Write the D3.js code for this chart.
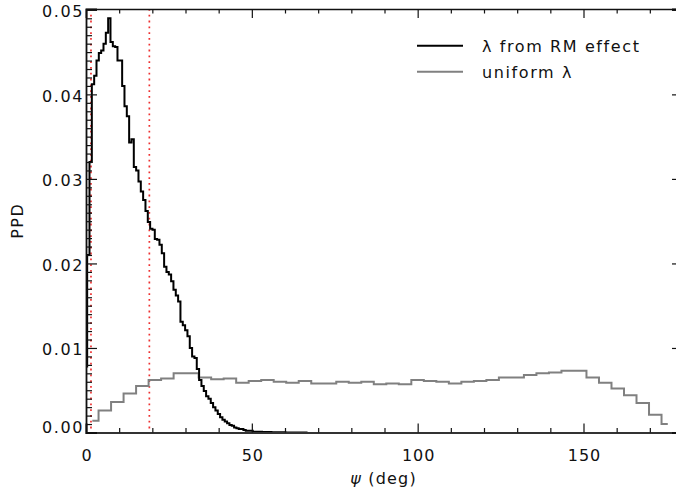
<!DOCTYPE html>
<html>
<head>
<meta charset="utf-8">
<script src="https://cdn.jsdelivr.net/npm/d3@7"></script>
<style>
  html, body { margin: 0; padding: 0; background: #fff; }
  svg { display: block; }
  text { font-family: "DejaVu Sans", sans-serif; fill: #111; }
</style>
</head>
<body>
<div id="chart"></div>
<script>
// ---------- data ----------
// black histogram: "λ from RM effect", 256 bins over 0..180 deg (only non-zero part listed)
const blackBinWidth = 180 / 256;
const blackValues = [
  0.0078, 0.0210, 0.0320, 0.0412, 0.0422, 0.0440, 0.0449, 0.0452, 0.0460, 0.0473,
  0.0490, 0.0462, 0.0457, 0.0456, 0.0440, 0.0440, 0.0410, 0.0386, 0.0374, 0.0343,
  0.0347, 0.0314, 0.0310, 0.0297, 0.0285, 0.0275, 0.0262, 0.0249, 0.0241, 0.0240,
  0.0229, 0.0228, 0.0222, 0.0212, 0.0196, 0.0190, 0.0187, 0.0179, 0.0169, 0.0162,
  0.0155, 0.0131, 0.0127, 0.0121, 0.0114, 0.0100, 0.0090, 0.0088, 0.0075, 0.0062,
  0.0055, 0.0049, 0.0043, 0.0040, 0.0035, 0.0030, 0.0026, 0.0022, 0.0018, 0.0015,
  0.0013, 0.0011, 0.0009, 0.0008, 0.0006, 0.0005, 0.0004, 0.0004, 0.0003, 0.0002,
  0.0002, 0.0002, 0.0001, 0.0001, 0.0001, 0.0001, 0.00005, 0.00005, 0.00005, 0.00005,
  0.00003, 0.00003, 0.00003, 0.00002, 0.00002, 0.00002, 0.00001, 0.00001, 0.00001, 0.00001,
  0.0, 0.0, 0.0, 0.0, 0.0, 0.0
];
// gray histogram: "uniform λ"
const grayStart = 1.9;
const grayBinWidth = 3.772;
const grayValues = [
  0.0014, 0.0026, 0.0036, 0.0046, 0.0055, 0.0062, 0.0064, 0.0070, 0.0070, 0.0065,
  0.0063, 0.0064, 0.0059, 0.0061, 0.0062, 0.0060, 0.0059, 0.0061, 0.0058, 0.0058,
  0.0060, 0.0059, 0.0060, 0.0057, 0.0058, 0.0057, 0.0062, 0.0061, 0.0060, 0.0058,
  0.0060, 0.0061, 0.0062, 0.0065, 0.0065, 0.0068, 0.0070, 0.0071, 0.0073, 0.0073,
  0.0065, 0.0059, 0.0052, 0.0044, 0.0035, 0.0021, 0.0010
];
// red dotted interval lines (deg)
const intervalLines = [1.5, 19.1];
// ticks
const xMajorTicks = [0, 50, 100, 150];
const xMinorTicks = d3.range(0, 181, 10);
const yMajorTicks = [0.00, 0.01, 0.02, 0.03, 0.04, 0.05];
const yMinorTicks = d3.range(0, 51).map(d => d / 1000);
const legendLabels = ["λ from RM effect", "uniform λ"];
const seriesColors = ["#000000", "#808080"];

(function () {
// ---------- layout ----------
const W = 676, H = 491;
const pLeft = 86, pRight = 683, pTop = 9, pBottom = 432.5;

const svg = d3.select("#chart").append("svg")
  .attr("width", W).attr("height", H);
svg.append("rect").attr("width", W).attr("height", H).attr("fill", "#fff");

const x = d3.scaleLinear().domain([0, 180]).range([pLeft, pRight]);
const y = d3.scaleLinear().domain([0, 0.0501]).range([pBottom, pTop]);

const blackPts = blackValues.map((v, i) => [i * blackBinWidth, v]);
const grayPts = grayValues.map((v, i) => [grayStart + i * grayBinWidth, v]);

const line = d3.line().x(d => x(d[0])).y(d => y(d[1])).curve(d3.curveStep);

// red dotted lines
svg.selectAll("line.interval").data(intervalLines).enter().append("line")
  .attr("class", "interval")
  .attr("x1", d => x(d)).attr("x2", d => x(d))
  .attr("y1", pTop).attr("y2", pBottom)
  .attr("stroke", "#ee3030").attr("stroke-width", 1.7)
  .attr("stroke-dasharray", "1.8,4");

// gray histogram
svg.append("path").datum(grayPts)
  .attr("d", line).attr("fill", "none")
  .attr("stroke", seriesColors[1]).attr("stroke-width", 2);

// black histogram
svg.append("path").datum(blackPts)
  .attr("d", line).attr("fill", "none")
  .attr("stroke", seriesColors[0]).attr("stroke-width", 2);

// ---------- axes ----------
const fontSize = 16, ls = 1.6;
const minorX = xMinorTicks.filter(d => !xMajorTicks.includes(d));
const minorY = yMinorTicks.filter(d => Math.round(d * 1000) % 10 !== 0);

// bottom
const xBottom = svg.append("g").attr("transform", `translate(0,${pBottom})`)
  .call(d3.axisBottom(x).tickValues(xMajorTicks).tickSize(-9).tickFormat(d3.format("d")));
xBottom.select(".domain").attr("stroke", "#333").attr("stroke-width", 2);
xBottom.selectAll(".tick line").attr("stroke", "#111").attr("stroke-width", 1.2);
xBottom.selectAll(".tick text").attr("y", 28).attr("dy", 0)
  .attr("dx", 0.5)
  .style("font-size", fontSize + "px").style("letter-spacing", "1px")
  .style("font-family", "DejaVu Sans").attr("fill", "#111");
svg.append("g").attr("transform", `translate(0,${pBottom})`)
  .call(d3.axisBottom(x).tickValues(minorX).tickSize(-4.5).tickFormat(""))
  .call(g => g.select(".domain").remove())
  .selectAll(".tick line").attr("stroke", "#111").attr("stroke-width", 1.2);

// top
const xTop = svg.append("g").attr("transform", `translate(0,${pTop})`)
  .call(d3.axisTop(x).tickValues(xMajorTicks).tickSize(-9).tickFormat(""));
xTop.select(".domain").attr("stroke", "#111").attr("stroke-width", 1.6);
xTop.selectAll(".tick line").attr("stroke", "#111").attr("stroke-width", 1.2);
svg.append("g").attr("transform", `translate(0,${pTop})`)
  .call(d3.axisTop(x).tickValues(minorX).tickSize(-4.5).tickFormat(""))
  .call(g => g.select(".domain").remove())
  .selectAll(".tick line").attr("stroke", "#111").attr("stroke-width", 1.2);

// left
const yLeft = svg.append("g").attr("transform", `translate(${pLeft},0)`)
  .call(d3.axisLeft(y).tickValues(yMajorTicks).tickSize(-11).tickFormat(d3.format(".2f")));
yLeft.select(".domain").attr("stroke", "#111").attr("stroke-width", 1.8);
yLeft.selectAll(".tick line").attr("stroke", "#111").attr("stroke-width", 1.2);
yLeft.selectAll(".tick text").attr("x", -2).attr("dy", d => d === 0 ? "0em" : "0.42em")
  .style("font-size", fontSize + "px").style("letter-spacing", ls + "px")
  .style("font-family", "DejaVu Sans").attr("fill", "#111");
svg.append("g").attr("transform", `translate(${pLeft},0)`)
  .call(d3.axisLeft(y).tickValues(minorY).tickSize(-6).tickFormat(""))
  .call(g => g.select(".domain").remove())
  .selectAll(".tick line").attr("stroke", "#111").attr("stroke-width", 1.2);

// right
const yRight = svg.append("g").attr("transform", `translate(${pRight},0)`)
  .call(d3.axisRight(y).tickValues(yMajorTicks).tickSize(-11).tickFormat(""));
yRight.select(".domain").attr("stroke", "#111").attr("stroke-width", 1.8);
yRight.selectAll(".tick line").attr("stroke", "#111").attr("stroke-width", 1.2);

// axis titles
const xt = svg.append("text")
  .attr("x", (pLeft + pRight) / 2 - 1).attr("y", 484)
  .attr("text-anchor", "middle")
  .style("font-size", fontSize + "px").style("letter-spacing", "1.2px");
xt.append("tspan").style("font-style", "italic").text("ψ");
xt.append("tspan").text(" (deg)");

svg.append("text")
  .attr("transform", `translate(23,${(pTop + pBottom) / 2}) rotate(-90)`)
  .attr("text-anchor", "middle")
  .style("font-size", fontSize + "px").style("letter-spacing", "1.5px")
  .text("PPD");

// legend
const legend = svg.append("g");
legendLabels.forEach((lab, i) => {
  const ly = 45.7 + i * 26;
  legend.append("line")
    .attr("x1", 417).attr("x2", 463).attr("y1", ly).attr("y2", ly)
    .attr("stroke", seriesColors[i]).attr("stroke-width", 2);
  legend.append("text")
    .attr("x", 482).attr("y", ly + 6)
    .style("font-size", fontSize + "px").style("letter-spacing", ls + "px")
    .text(lab);
});
})();
</script>
</body>
</html>
